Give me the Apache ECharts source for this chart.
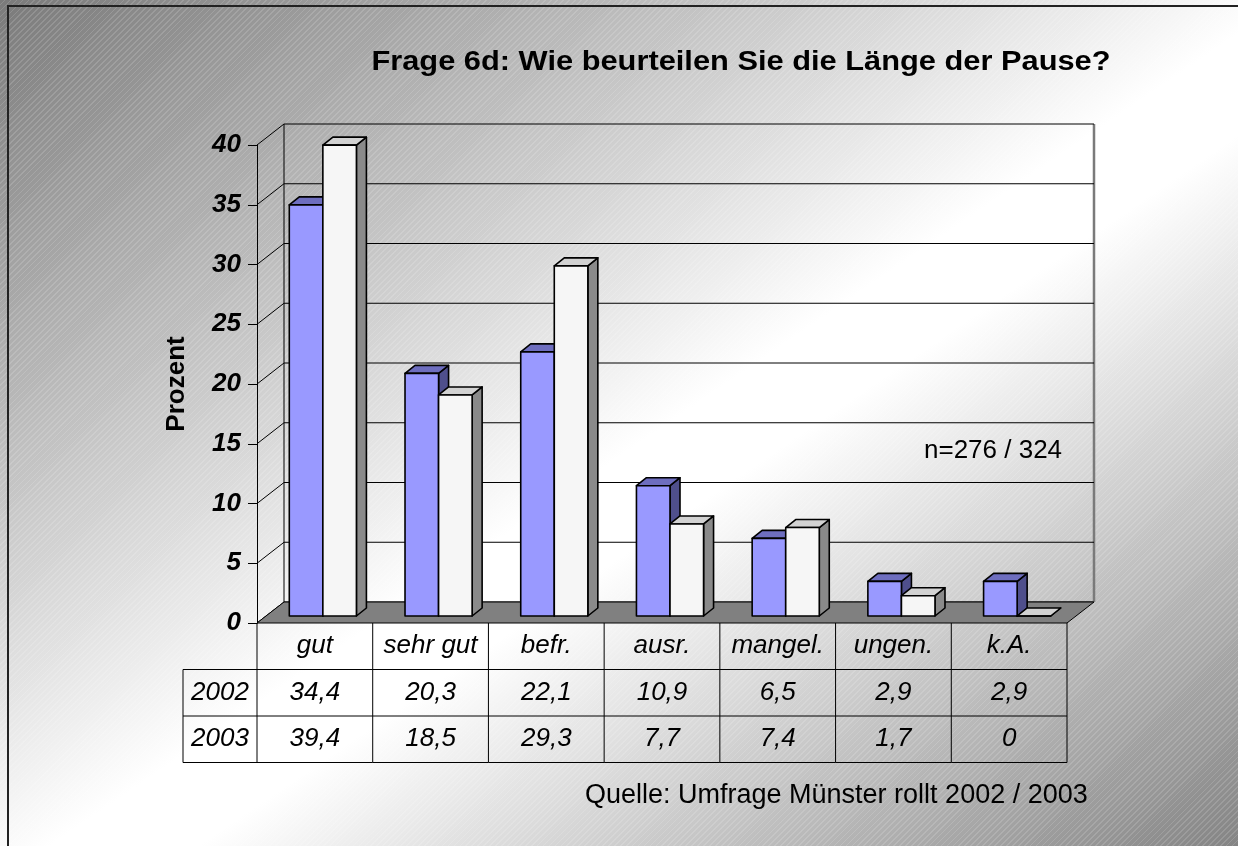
<!DOCTYPE html>
<html>
<head>
<meta charset="utf-8">
<script src="https://cdn.jsdelivr.net/npm/echarts@6/dist/echarts.min.js"></script>
<style>
  body { margin: 0; }
  #main {
    width: 1238px; height: 846px;
    background:
      repeating-linear-gradient(135deg, rgba(255,255,255,0) 0px, rgba(255,255,255,0) 3px, rgba(255,255,255,0.14) 3px, rgba(255,255,255,0.14) 4.2px),
      linear-gradient(to bottom right, #7a7a7a 0%, #ffffff 52%, #ffffff 58%, #848484 100%);
  }
</style>
</head>
<body>
<div id="main"></div>
<script>
// Daten
var categories = ['gut', 'sehr gut', 'befr.', 'ausr.', 'mangel.', 'ungen.', 'k.A.'];
var years = ['2002', '2003'];
var values2002 = [34.4, 20.3, 22.1, 10.9, 6.5, 2.9, 2.9];
var values2003 = [39.4, 18.5, 29.3, 7.7, 7.4, 1.7, 0];
var yTicks = [0, 5, 10, 15, 20, 25, 30, 35, 40];

// 3D-Geometrie
var DEPTH_DX = 27, DEPTH_DY = -21;     // Boden-Tiefe
var PLANE_DX = 8, PLANE_DY = -7;       // Lage der Balkenebene
var BAR_DX = 10, BAR_DY = -8;          // Balkentiefe
var BAR_W = 0.29;
var ROW_H = 46.5, HEAD_W = 74;
var FONT = '"Liberation Sans", Arial, sans-serif';

var myChart = echarts.init(document.getElementById('main'));

function fmt(v) { return String(v).replace('.', ','); }

function wallItem(params, api) {
  var cs = params.coordSys;
  var v = api.value(1);
  var y = api.coord([0, v])[1];
  var lx = cs.x, rx = cs.x + cs.width;
  var kids = [
    { type: 'line', shape: { x1: lx, y1: y, x2: lx + DEPTH_DX, y2: y + DEPTH_DY }, style: { stroke: '#000', lineWidth: 1 } },
    { type: 'line', shape: { x1: lx + DEPTH_DX, y1: y + DEPTH_DY, x2: rx + DEPTH_DX, y2: y + DEPTH_DY }, style: { stroke: '#000', lineWidth: 1 } }
  ];
  if (params.dataIndex === 0) {
    kids.push({ type: 'line', shape: { x1: lx + DEPTH_DX, y1: cs.y + DEPTH_DY, x2: lx + DEPTH_DX, y2: cs.y + cs.height + DEPTH_DY }, style: { stroke: '#000', lineWidth: 1 } });
    kids.push({ type: 'line', shape: { x1: rx + DEPTH_DX, y1: cs.y + DEPTH_DY, x2: rx + DEPTH_DX, y2: cs.y + cs.height + DEPTH_DY }, style: { stroke: '#7a7a7a', lineWidth: 2.5 } });
  }
  return { type: 'group', children: kids };
}

function floorItem(params, api) {
  var cs = params.coordSys;
  var y = cs.y + cs.height, lx = cs.x, rx = cs.x + cs.width;
  return {
    type: 'polygon',
    shape: { points: [[lx, y], [rx, y], [rx + DEPTH_DX, y + DEPTH_DY], [lx + DEPTH_DX, y + DEPTH_DY]] },
    style: { fill: '#808080', stroke: '#000', lineWidth: 1 }
  };
}

function barItem(side, colors) {
  return function (params, api) {
    var i = api.value(0), v = api.value(1);
    var base = api.coord([i, 0]);
    var top = api.coord([i, v]);
    var bw = api.size([1, 0])[0] * BAR_W;
    var cx = base[0] + PLANE_DX;
    var x0 = side === 0 ? cx - bw : cx;
    var x1 = x0 + bw;
    var yb = base[1] + PLANE_DY, yt = top[1] + PLANE_DY;
    var st = { stroke: '#000', lineWidth: 1.6, lineJoin: 'round' };
    return {
      type: 'group',
      children: [
        { type: 'polygon', shape: { points: [[x1, yt], [x1 + BAR_DX, yt + BAR_DY], [x1 + BAR_DX, yb + BAR_DY], [x1, yb]] }, style: Object.assign({ fill: colors[2] }, st) },
        { type: 'polygon', shape: { points: [[x0, yt], [x1, yt], [x1 + BAR_DX, yt + BAR_DY], [x0 + BAR_DX, yt + BAR_DY]] }, style: Object.assign({ fill: colors[1] }, st) },
        { type: 'rect', shape: { x: x0, y: yt, width: bw, height: yb - yt }, style: Object.assign({ fill: colors[0] }, st) }
      ]
    };
  };
}

function cellText(x, y, txt) {
  return { type: 'text', x: x, y: y, style: { text: txt, textAlign: 'center', textVerticalAlign: 'middle', fontSize: 26, fontStyle: 'italic', fontFamily: FONT, fill: '#000' } };
}

function tableItem(params, api) {
  var i = api.value(0);
  var c = api.coord([i, 0]);
  var w = api.size([1, 0])[0];
  var x0 = c[0] - w / 2, x1 = c[0] + w / 2, y0 = c[1];
  var ln = { stroke: '#000', lineWidth: 1 };
  var kids = [
    { type: 'line', shape: { x1: x1, y1: y0, x2: x1, y2: y0 + 3 * ROW_H }, style: ln }
  ];
  for (var r = 1; r <= 3; r++) {
    kids.push({ type: 'line', shape: { x1: x0, y1: y0 + r * ROW_H, x2: x1, y2: y0 + r * ROW_H }, style: ln });
  }
  kids.push(cellText(c[0], y0 + ROW_H / 2, categories[i]));
  kids.push(cellText(c[0], y0 + ROW_H * 1.5, fmt(api.value(1))));
  kids.push(cellText(c[0], y0 + ROW_H * 2.5, fmt(api.value(2))));
  if (i === 0) {
    var hx = x0 - HEAD_W;
    kids.push({ type: 'line', shape: { x1: x0, y1: y0, x2: x0, y2: y0 + 3 * ROW_H }, style: ln });
    kids.push({ type: 'line', shape: { x1: hx, y1: y0 + ROW_H, x2: hx, y2: y0 + 3 * ROW_H }, style: ln });
    for (var k = 1; k <= 3; k++) {
      kids.push({ type: 'line', shape: { x1: hx, y1: y0 + k * ROW_H, x2: x0, y2: y0 + k * ROW_H }, style: ln });
    }
    kids.push(cellText(hx + HEAD_W / 2, y0 + ROW_H * 1.5, years[0]));
    kids.push(cellText(hx + HEAD_W / 2, y0 + ROW_H * 2.5, years[1]));
  }
  return { type: 'group', children: kids };
}

option = {
  backgroundColor: 'transparent',
  animation: false,
  graphic: [
    { type: 'rect', shape: { x: 8, y: 6, width: 1300, height: 900 }, style: { fill: 'none', stroke: '#222', lineWidth: 2 } },
    { type: 'text', x: 741, y: 62, scaleX: 1.1, style: { text: 'Frage 6d: Wie beurteilen Sie die Länge der Pause?', textAlign: 'center', textVerticalAlign: 'middle', fontSize: 28, fontWeight: 'bold', fontFamily: FONT, fill: '#000' } },
    { type: 'text', x: 924, y: 451, style: { text: 'n=276 / 324', textAlign: 'left', textVerticalAlign: 'middle', fontSize: 26, fontFamily: FONT, fill: '#000' } },
    { type: 'text', x: 585, y: 796, style: { text: 'Quelle: Umfrage Münster rollt 2002 / 2003', textAlign: 'left', textVerticalAlign: 'middle', fontSize: 27, fontFamily: FONT, fill: '#000' } }
  ],
  grid: { left: 257, top: 145, width: 810, height: 478 },
  xAxis: {
    type: 'category',
    data: categories,
    axisLine: { show: false },
    axisTick: { show: false },
    axisLabel: { show: false }
  },
  yAxis: {
    type: 'value',
    min: 0, max: 40, interval: 5,
    name: 'Prozent',
    nameLocation: 'middle',
    nameRotate: 90,
    nameGap: 67,
    nameTextStyle: { fontSize: 26, fontWeight: 'bold', fontFamily: FONT, color: '#000' },
    axisLine: { show: true, lineStyle: { color: '#000', width: 1 } },
    axisTick: { show: true, length: 9, lineStyle: { color: '#000' } },
    axisLabel: { fontSize: 26, fontWeight: 'bold', fontStyle: 'italic', fontFamily: FONT, color: '#000', margin: 16 },
    splitLine: { show: false }
  },
  series: [
    { type: 'custom', name: 'wand', renderItem: wallItem, data: yTicks.map(function (v) { return [0, v]; }), silent: true },
    { type: 'custom', name: 'boden', renderItem: floorItem, data: [[0, 0]], silent: true },
    { type: 'custom', name: years[0], renderItem: barItem(0, ['#9999ff', '#6e6ebf', '#4f4f8c']), data: values2002.map(function (v, i) { return [i, v]; }) },
    { type: 'custom', name: years[1], renderItem: barItem(1, ['#f6f6f6', '#d2d2d2', '#8a8a8a']), data: values2003.map(function (v, i) { return [i, v]; }) },
    { type: 'custom', name: 'tabelle', renderItem: tableItem, data: values2002.map(function (v, i) { return [i, v, values2003[i]]; }), silent: true }
  ]
};

myChart.setOption(option);
</script>
</body>
</html>
